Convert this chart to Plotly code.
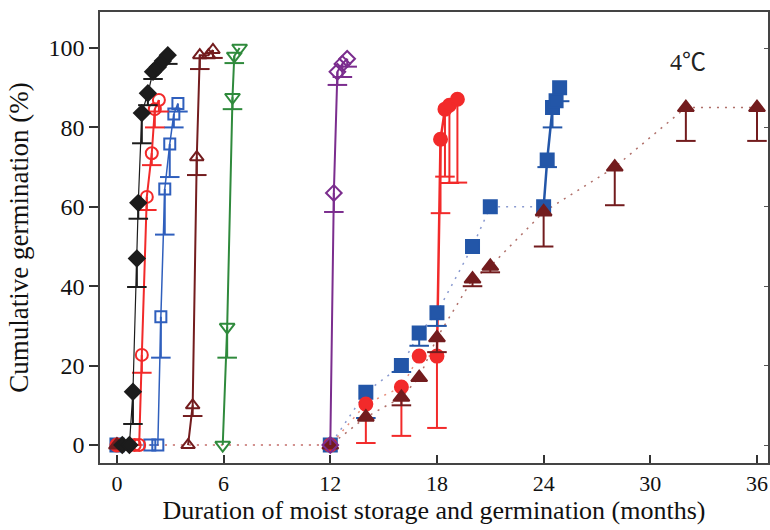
import plotly.graph_objects as go

# ---------------- data (months, cumulative germination %, lower error) ----------------
blk_x = [0.3, 0.7, 0.9, 1.12, 1.2, 1.4, 1.74, 2.03, 2.3, 2.58, 2.86]
blk_y = [0, 0, 13.4, 47, 61, 83.6, 88.6, 94, 95.2, 96.7, 98.2]
blk_e = [0, 0, 8.1, 7.2, 4, 7.6, 3, 1.8, 0, 0, 2.2]

rdo_x = [1.0, 1.25, 1.4, 1.68, 1.96, 2.13, 2.36]
rdo_y = [0, 0, 22.7, 62.5, 73.5, 84.6, 86.9]
rdo_e = [0, 0, 4.5, 3.3, 3, 4.6, 2.9]

blo_x = [1.85, 2.3, 2.47, 2.69, 2.97, 3.2, 3.43]
blo_y = [0, 0, 32.3, 64.5, 75.8, 83.4, 86]
blo_e = [0, 0, 10.3, 11.5, 8.3, 3.4, 2]

dro_x = [4.0, 4.26, 4.49, 4.66, 5.15, 5.4]
dro_y = [0, 10, 72.5, 98.2, 98.2, 99.5]
dro_e = [0, 2.7, 4.5, 3.5, 0, 2]

grn_x = [5.95, 6.2, 6.5, 6.6, 6.9]
grn_y = [0, 29.7, 87.6, 98, 100]
grn_e = [0, 7.7, 3, 1.8, 0]

pur_x = [12, 12.2, 12.4, 12.68, 12.95]
pur_y = [0, 63.5, 94, 96, 97.3]
pur_e = [0, 4.8, 3.3, 3.3, 2]

rdf_x = [0, 12, 14, 16, 17, 18, 18.2, 18.45, 18.7, 19.15]
rdf_y = [0, 0, 10.3, 14.6, 22.4, 22.4, 77, 84.6, 85.6, 87.1]
rdf_e = [0, 0, 9.8, 12.3, 0, 18.1, 18.6, 17, 19.6, 21]
rdf_solid_from = 5

blf_x = [0, 12, 14, 16, 17, 18, 20, 21, 24, 24.2, 24.5, 24.7, 24.9]
blf_y = [0, 0, 13.3, 20, 28.2, 33.3, 50, 60, 60, 71.8, 85, 86.7, 90]
blf_e = [0, 0, 6.5, 1.6, 3.2, 3.3, 0, 0, 0, 1.8, 5, 0, 3.4]
blf_solid_from = 8

dtf_x = [0, 12, 14, 16, 17, 18, 20, 21, 24, 28, 32, 36]
dtf_y = [0, 0, 7, 12, 17, 27, 41.8, 45, 58.7, 70, 85, 85]
dtf_e = [0, 0, 0, 2, 0, 3.6, 1.8, 1.5, 8.7, 9.6, 8.4, 8.4]

x_ticks = [0, 6, 12, 18, 24, 30, 36]
y_ticks = [0, 20, 40, 60, 80, 100]

BLACK = "#1c1c1c"
RED = "#f22a2a"
BLUE = "#2f5fbd"
BLUEF = "#2356a8"
DRED = "#731c1e"
GREEN = "#2f8a3c"
PURPLE = "#7b2d8e"

X_RANGE = [-0.953, 36.62]
CAP_HALF = 0.55  # half cap width in months (about 10 px)

fig = go.Figure()


def add_errbars(x, y, e, color):
    """Lower-only error bars (bar + bottom cap), built from the data arrays."""
    ex, ey = [], []
    for xi, yi, ei in zip(x, y, e):
        if ei > 0:
            lo = yi - ei
            ex += [xi, xi, None, xi - CAP_HALF, xi + CAP_HALF, None]
            ey += [yi, lo, None, lo, lo, None]
    fig.add_trace(go.Scatter(x=ex, y=ey, mode="lines", line=dict(color=color, width=2),
                             hoverinfo="skip", showlegend=False))


def add_markers(x, y, color, symbol, size):
    fig.add_trace(go.Scatter(x=x, y=y, mode="markers",
                             marker=dict(symbol=symbol, size=size, color=color,
                                         line=dict(color=color, width=2)),
                             showlegend=False))


def add_open_series(x, y, e, color, symbol, size, lw):
    fig.add_trace(go.Scatter(x=x, y=y, mode="lines", line=dict(color=color, width=lw),
                             hoverinfo="skip", showlegend=False))
    add_errbars(x, y, e, color)
    add_markers(x, y, color, symbol, size)


DOT = "2px,6px"

# filled series: dotted connecting lines, then solid final rise
fig.add_trace(go.Scatter(x=dtf_x, y=dtf_y, mode="lines",
                         line=dict(color="#b0706a", width=1.5, dash=DOT), showlegend=False))
fig.add_trace(go.Scatter(x=blf_x[:blf_solid_from + 1], y=blf_y[:blf_solid_from + 1], mode="lines",
                         line=dict(color="#8a9ad0", width=1.5, dash=DOT), showlegend=False))
fig.add_trace(go.Scatter(x=rdf_x[:rdf_solid_from + 1], y=rdf_y[:rdf_solid_from + 1], mode="lines",
                         line=dict(color="#e8907e", width=1.5, dash=DOT), showlegend=False))
fig.add_trace(go.Scatter(x=blf_x[blf_solid_from:], y=blf_y[blf_solid_from:], mode="lines",
                         line=dict(color=BLUEF, width=2.5), showlegend=False))
fig.add_trace(go.Scatter(x=rdf_x[rdf_solid_from:], y=rdf_y[rdf_solid_from:], mode="lines",
                         line=dict(color=RED, width=2.5), showlegend=False))

add_errbars(blf_x, blf_y, blf_e, BLUEF)
add_markers(blf_x, blf_y, BLUEF, "square", 13)
add_errbars(rdf_x, rdf_y, rdf_e, RED)
add_markers(rdf_x, rdf_y, RED, "circle", 13)
add_errbars(dtf_x, dtf_y, dtf_e, DRED)
add_markers(dtf_x, dtf_y, DRED, "triangle-up", 14)

# open series
add_open_series(pur_x, pur_y, pur_e, PURPLE, "diamond-open", 12, 2)
add_open_series(grn_x, grn_y, grn_e, GREEN, "triangle-down-open", 13, 2)
add_open_series(dro_x, dro_y, dro_e, DRED, "triangle-up-open", 12, 2)
add_open_series(blo_x, blo_y, blo_e, BLUE, "square-open", 11, 1.5)
add_open_series(rdo_x, rdo_y, rdo_e, RED, "circle-open", 12, 2)
add_open_series(blk_x, blk_y, blk_e, BLACK, "diamond", 12, 1.2)

fig.add_annotation(x=32.1, y=96.5, text="4℃", showarrow=False,
                   font=dict(family="Liberation Serif, Noto Sans CJK SC", size=24, color="#222"),
                   xanchor="center", yanchor="middle")

FONT = "Liberation Serif, Times New Roman, serif"
fig.update_layout(
    width=770, height=530,
    margin=dict(l=100, r=0, t=12, b=67),
    paper_bgcolor="white", plot_bgcolor="white",
    font=dict(family=FONT, size=20, color="#111"),
    xaxis=dict(range=X_RANGE, tickvals=x_ticks, ticks="inside", ticklen=8,
               tickwidth=1.5, tickcolor="#333", showline=True, linecolor="#444", linewidth=1.5,
               mirror=True, showgrid=False, zeroline=False,
               tickfont=dict(family=FONT, size=22),
               title=dict(text="Duration of moist storage and germination (months)",
                          font=dict(family=FONT, size=26), standoff=6)),
    yaxis=dict(range=[-4.53, 109.07], tickvals=y_ticks, ticks="outside", ticklen=9,
               tickwidth=1.5, tickcolor="#333", showline=True, linecolor="#444", linewidth=1.5,
               mirror=True, showgrid=False, zeroline=False,
               tickfont=dict(family=FONT, size=24),
               title=dict(text="Cumulative germination (%)",
                          font=dict(family=FONT, size=27), standoff=12)),
    yaxis2=dict(range=[-4.53, 109.07], tickvals=y_ticks, overlaying="y", side="right",
                ticks="inside", ticklen=4, tickcolor="#555", showticklabels=False,
                showgrid=False, zeroline=False),
    showlegend=False,
)
fig.add_trace(go.Scatter(x=[None], y=[None], yaxis="y2", showlegend=False))

fig.write_html("out.html")
